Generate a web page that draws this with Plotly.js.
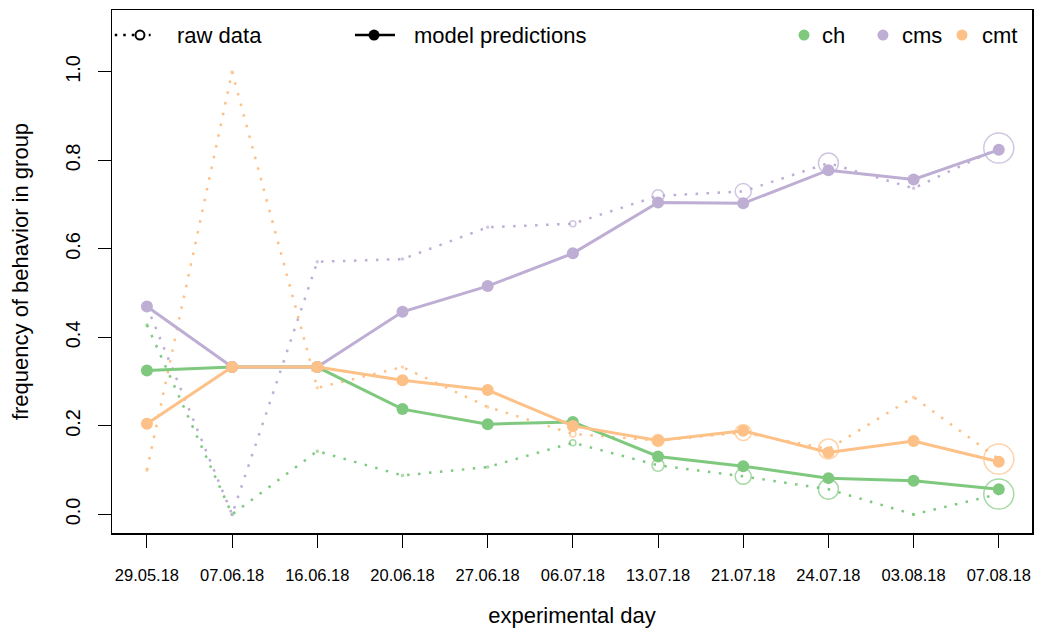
<!DOCTYPE html>
<html>
<head>
<meta charset="utf-8">
<script src="https://cdn.plot.ly/plotly-3.0.1.min.js"></script>
<style>html,body{margin:0;padding:0;background:#fff;}#chart{width:1043px;height:631px;}</style>
</head>
<body>
<div id="chart"></div>
<script>
// ---- data ----
var days = ["29.05.18","07.06.18","16.06.18","20.06.18","27.06.18","06.07.18","13.07.18","21.07.18","24.07.18","03.08.18","07.08.18"];
var groups = ["ch","cms","cmt"];
var groupColors = ["#7fc97f","#beaed4","#fdc086"];

var modelCh  = [0.325,0.333,0.333,0.238,0.204,0.209,0.131,0.109,0.082,0.076,0.057];
var modelCms = [0.470,0.333,0.333,0.458,0.516,0.590,0.705,0.703,0.778,0.757,0.824];
var modelCmt = [0.205,0.333,0.333,0.303,0.281,0.200,0.167,0.189,0.140,0.166,0.119];

var rawCh  = [0.428,0.000,0.143,0.088,0.107,0.162,0.111,0.086,0.057,0.000,0.046];
var rawCms = [0.470,0.000,0.571,0.577,0.649,0.657,0.720,0.730,0.794,0.737,0.828];
var rawCmt = [0.100,1.000,0.286,0.333,0.243,0.182,0.167,0.185,0.148,0.265,0.125];

// relative weight of each day (drives open-circle size of raw data)
var dayWeight = [1,1,1,1,1,3,6,8,10,1,15];

// ---- build ----
var xIdx = days.map(function(d,i){return i;});
var modelSets = [modelCh, modelCms, modelCmt];
var rawSets = [rawCh, rawCms, rawCmt];
var circleSizes = dayWeight.map(function(w){return 2*w;});

var traces = [];
rawSets.forEach(function(vals,g){
  traces.push({
    x: xIdx, y: vals, type: "scatter", mode: "lines",
    line: {color: groupColors[g], width: 2.5, dash: "2.5px,8.5px"},
    hoverinfo: "skip", showlegend: false
  });
  traces.push({
    x: xIdx, y: vals, type: "scatter", mode: "markers",
    marker: {symbol: "circle-open", size: circleSizes, color: groupColors[g], line: {width: 1.5, color: groupColors[g]}},
    showlegend: false
  });
});
modelSets.forEach(function(vals,g){
  traces.push({
    x: xIdx, y: vals, type: "scatter", mode: "lines+markers",
    line: {color: groupColors[g], width: 3},
    marker: {size: 12, color: groupColors[g]},
    showlegend: false
  });
});

// legend (drawn in paper coordinates)
var legY = 0.952;
var legFont = {size: 22, color: "#000"};
var shapes = [
  {type:"line", xref:"paper", yref:"paper", x0:0.003, x1:0.042, y0:legY, y1:legY, line:{color:"#000", width:2.5, dash:"2.5px,6px"}},
  {type:"circle", xref:"paper", yref:"paper", xsizemode:"pixel", ysizemode:"pixel", xanchor:0.0304, yanchor:legY, x0:-4.5, x1:4.5, y0:-4.5, y1:4.5, fillcolor:"#fff", line:{color:"#000", width:2}},
  {type:"line", xref:"paper", yref:"paper", x0:0.2641, x1:0.3076, y0:legY, y1:legY, line:{color:"#000", width:2.5}},
  {type:"circle", xref:"paper", yref:"paper", xsizemode:"pixel", ysizemode:"pixel", xanchor:0.2848, yanchor:legY, x0:-5.5, x1:5.5, y0:-5.5, y1:5.5, fillcolor:"#000", line:{color:"#000", width:0}}
];
var legDotX = [0.7522, 0.8380, 0.9239];
var legTextX = [0.7695, 0.8565, 0.9434];
groups.forEach(function(g,i){
  shapes.push({type:"circle", xref:"paper", yref:"paper", xsizemode:"pixel", ysizemode:"pixel", xanchor:legDotX[i], yanchor:legY, x0:-5.5, x1:5.5, y0:-5.5, y1:5.5, fillcolor:groupColors[i], line:{width:0}});
});
var annotations = [
  {xref:"paper", yref:"paper", x:0.0684, y:legY, text:"raw data", showarrow:false, xanchor:"left", yanchor:"middle", font:legFont},
  {xref:"paper", yref:"paper", x:0.3260, y:legY, text:"model predictions", showarrow:false, xanchor:"left", yanchor:"middle", font:legFont}
];
groups.forEach(function(g,i){
  annotations.push({xref:"paper", yref:"paper", x:legTextX[i], y:legY, text:g, showarrow:false, xanchor:"left", yanchor:"middle", font:legFont});
});

var layout = {
  width: 1043, height: 631,
  margin: {l:112, r:11, t:10, b:98},
  paper_bgcolor: "#fff", plot_bgcolor: "#fff",
  font: {family: "Liberation Sans, Arial, sans-serif", color: "#000"},
  showlegend: false,
  xaxis: {
    range: [-0.41, 10.39], tickvals: xIdx, ticktext: days,
    showgrid: false, zeroline: false, showline: true, mirror: true, linecolor: "#000", linewidth: 1.5,
    ticks: "outside", ticklen: 13, tickwidth: 1, tickcolor: "#000", ticklabelstandoff: 14,
    tickfont: {size: 16.5}, title: {text: "experimental day", font: {size: 22}, standoff: 24}
  },
  yaxis: {
    range: [-0.042, 1.140], tickvals: [0,0.2,0.4,0.6,0.8,1.0], tickformat: ".1f",
    showgrid: false, zeroline: false, showline: true, mirror: true, linecolor: "#000", linewidth: 1.5,
    ticks: "outside", ticklen: 13, tickwidth: 1, tickcolor: "#000", tickangle: -90, ticklabelstandoff: 10,
    tickfont: {size: 20}, title: {text: "frequency of behavior in group", font: {size: 22}, standoff: 27}
  },
  shapes: shapes,
  annotations: annotations
};

Plotly.newPlot("chart", traces, layout, {displayModeBar: false, staticPlot: true});
</script>
</body>
</html>
